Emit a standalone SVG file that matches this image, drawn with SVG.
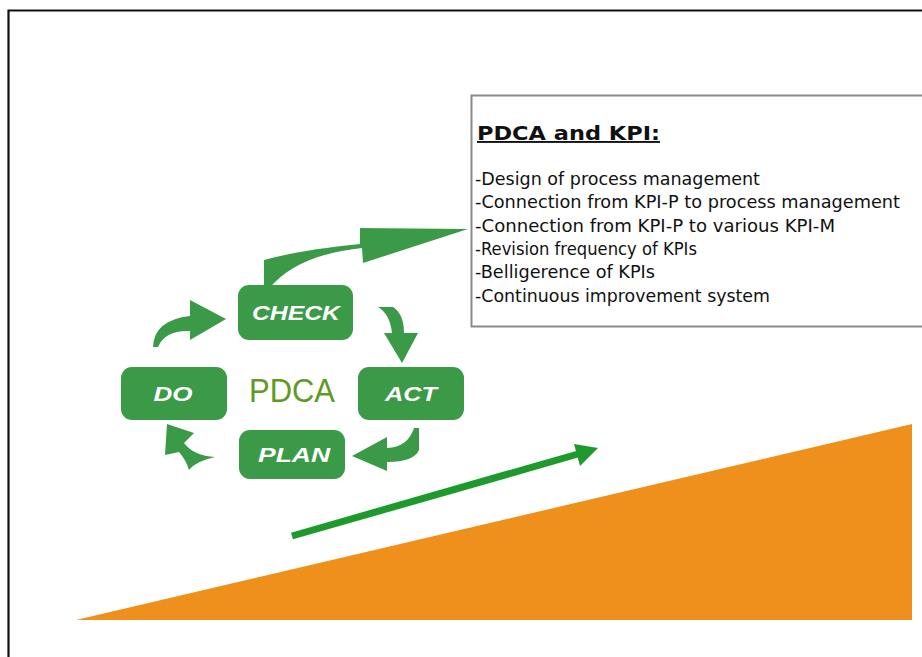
<svg xmlns="http://www.w3.org/2000/svg" width="922" height="657" viewBox="0 0 922 657">
<style>
.box{fill:#3b9a47;}
.arr{fill:#3b9a47;}
.lbl{fill:#ffffff;font-family:"Liberation Sans",Arial,sans-serif;font-weight:bold;font-style:italic;font-size:21px;text-anchor:middle;}
.txt{fill:#111111;font-family:"DejaVu Sans",Verdana,sans-serif;font-size:17.5px;}
</style>
<rect x="0" y="0" width="922" height="657" fill="#ffffff"/>
<path d="M8.5,657 L8.5,10.5 L922,10.5" fill="none" stroke="#111" stroke-width="2.2"/>

<g id="ramp">
<polygon points="76,620 912,424 912,620" fill="#f0901c"/>
</g>

<g id="kpi-box">
<path d="M922,95.5 L471.5,95.5 L471.5,326.5 L922,326.5" fill="#ffffff" stroke="#8a8a8a" stroke-width="2"/>
<text x="477" y="140" font-family="'DejaVu Sans',Verdana,sans-serif" font-weight="bold" font-size="19" fill="#111" text-decoration="underline" textLength="183" lengthAdjust="spacingAndGlyphs">PDCA and KPI:</text>
<text class="txt" x="475" y="185" textLength="285" lengthAdjust="spacingAndGlyphs">-Design of process management</text>
<text class="txt" x="475" y="208" textLength="425" lengthAdjust="spacingAndGlyphs">-Connection from KPI-P to process management</text>
<text class="txt" x="475" y="232" textLength="360" lengthAdjust="spacingAndGlyphs">-Connection from KPI-P to various KPI-M</text>
<text class="txt" x="475" y="255" textLength="222" lengthAdjust="spacingAndGlyphs">-Revision frequency of KPIs</text>
<text class="txt" x="475" y="278" textLength="180" lengthAdjust="spacingAndGlyphs">-Belligerence of KPIs</text>
<text class="txt" x="475" y="302" textLength="295" lengthAdjust="spacingAndGlyphs">-Continuous improvement system</text>
</g>

<g id="connectors">
<path class="arr" d="M264,290 L264,260 Q300,250 360,244 L360,228 L468,229 L363,263 L362,248 Q295,255 268,290 Z"/>
<path class="arr" d="M153,347 Q154,320 190,316 L190,300 L226,319 L190,340 L190,331 Q165,330 158,347 Z"/>
<path class="arr" d="M378,307 L393,307 Q404,314 404,333 L418,333 L402,363 L384,333 L392,333 Q390,314 378,307 Z"/>
<path class="arr" d="M414,428 L419,428 L419,450 Q414,462 387,462 L387,471 L352,456 L387,437 L387,448 Q408,447 414,428 Z"/>
<path class="arr" d="M215,457 Q196,461 189,470 Q186,460 179,452 L165,455 L167,424 L194,433 L184,443 Q194,456 215,457 Z"/>
<line x1="292" y1="536" x2="578" y2="454" stroke="#1e9a2c" stroke-width="7"/>
<polygon points="598,448 574,444 580,466" fill="#1e9a2c"/>
</g>

<g id="check">
<rect class="box" x="238" y="285" width="115" height="55" rx="11"/>
<text class="lbl" x="296" y="320" textLength="88" lengthAdjust="spacingAndGlyphs">CHECK</text>
</g>
<g id="do">
<rect class="box" x="121" y="367" width="106" height="53" rx="11"/>
<text class="lbl" x="173" y="401" textLength="39" lengthAdjust="spacingAndGlyphs">DO</text>
</g>
<g id="act">
<rect class="box" x="358" y="367" width="106" height="53" rx="11"/>
<text class="lbl" x="411" y="401" textLength="52" lengthAdjust="spacingAndGlyphs">ACT</text>
</g>
<g id="plan">
<rect class="box" x="239" y="430" width="106" height="49" rx="11"/>
<text class="lbl" x="294" y="462" textLength="72" lengthAdjust="spacingAndGlyphs">PLAN</text>
</g>
<g id="pdca">
<text x="292" y="402" font-family="'Liberation Sans',Arial,sans-serif" font-size="34" fill="#5f9a22" text-anchor="middle" textLength="86" lengthAdjust="spacingAndGlyphs">PDCA</text>
</g>
</svg>
